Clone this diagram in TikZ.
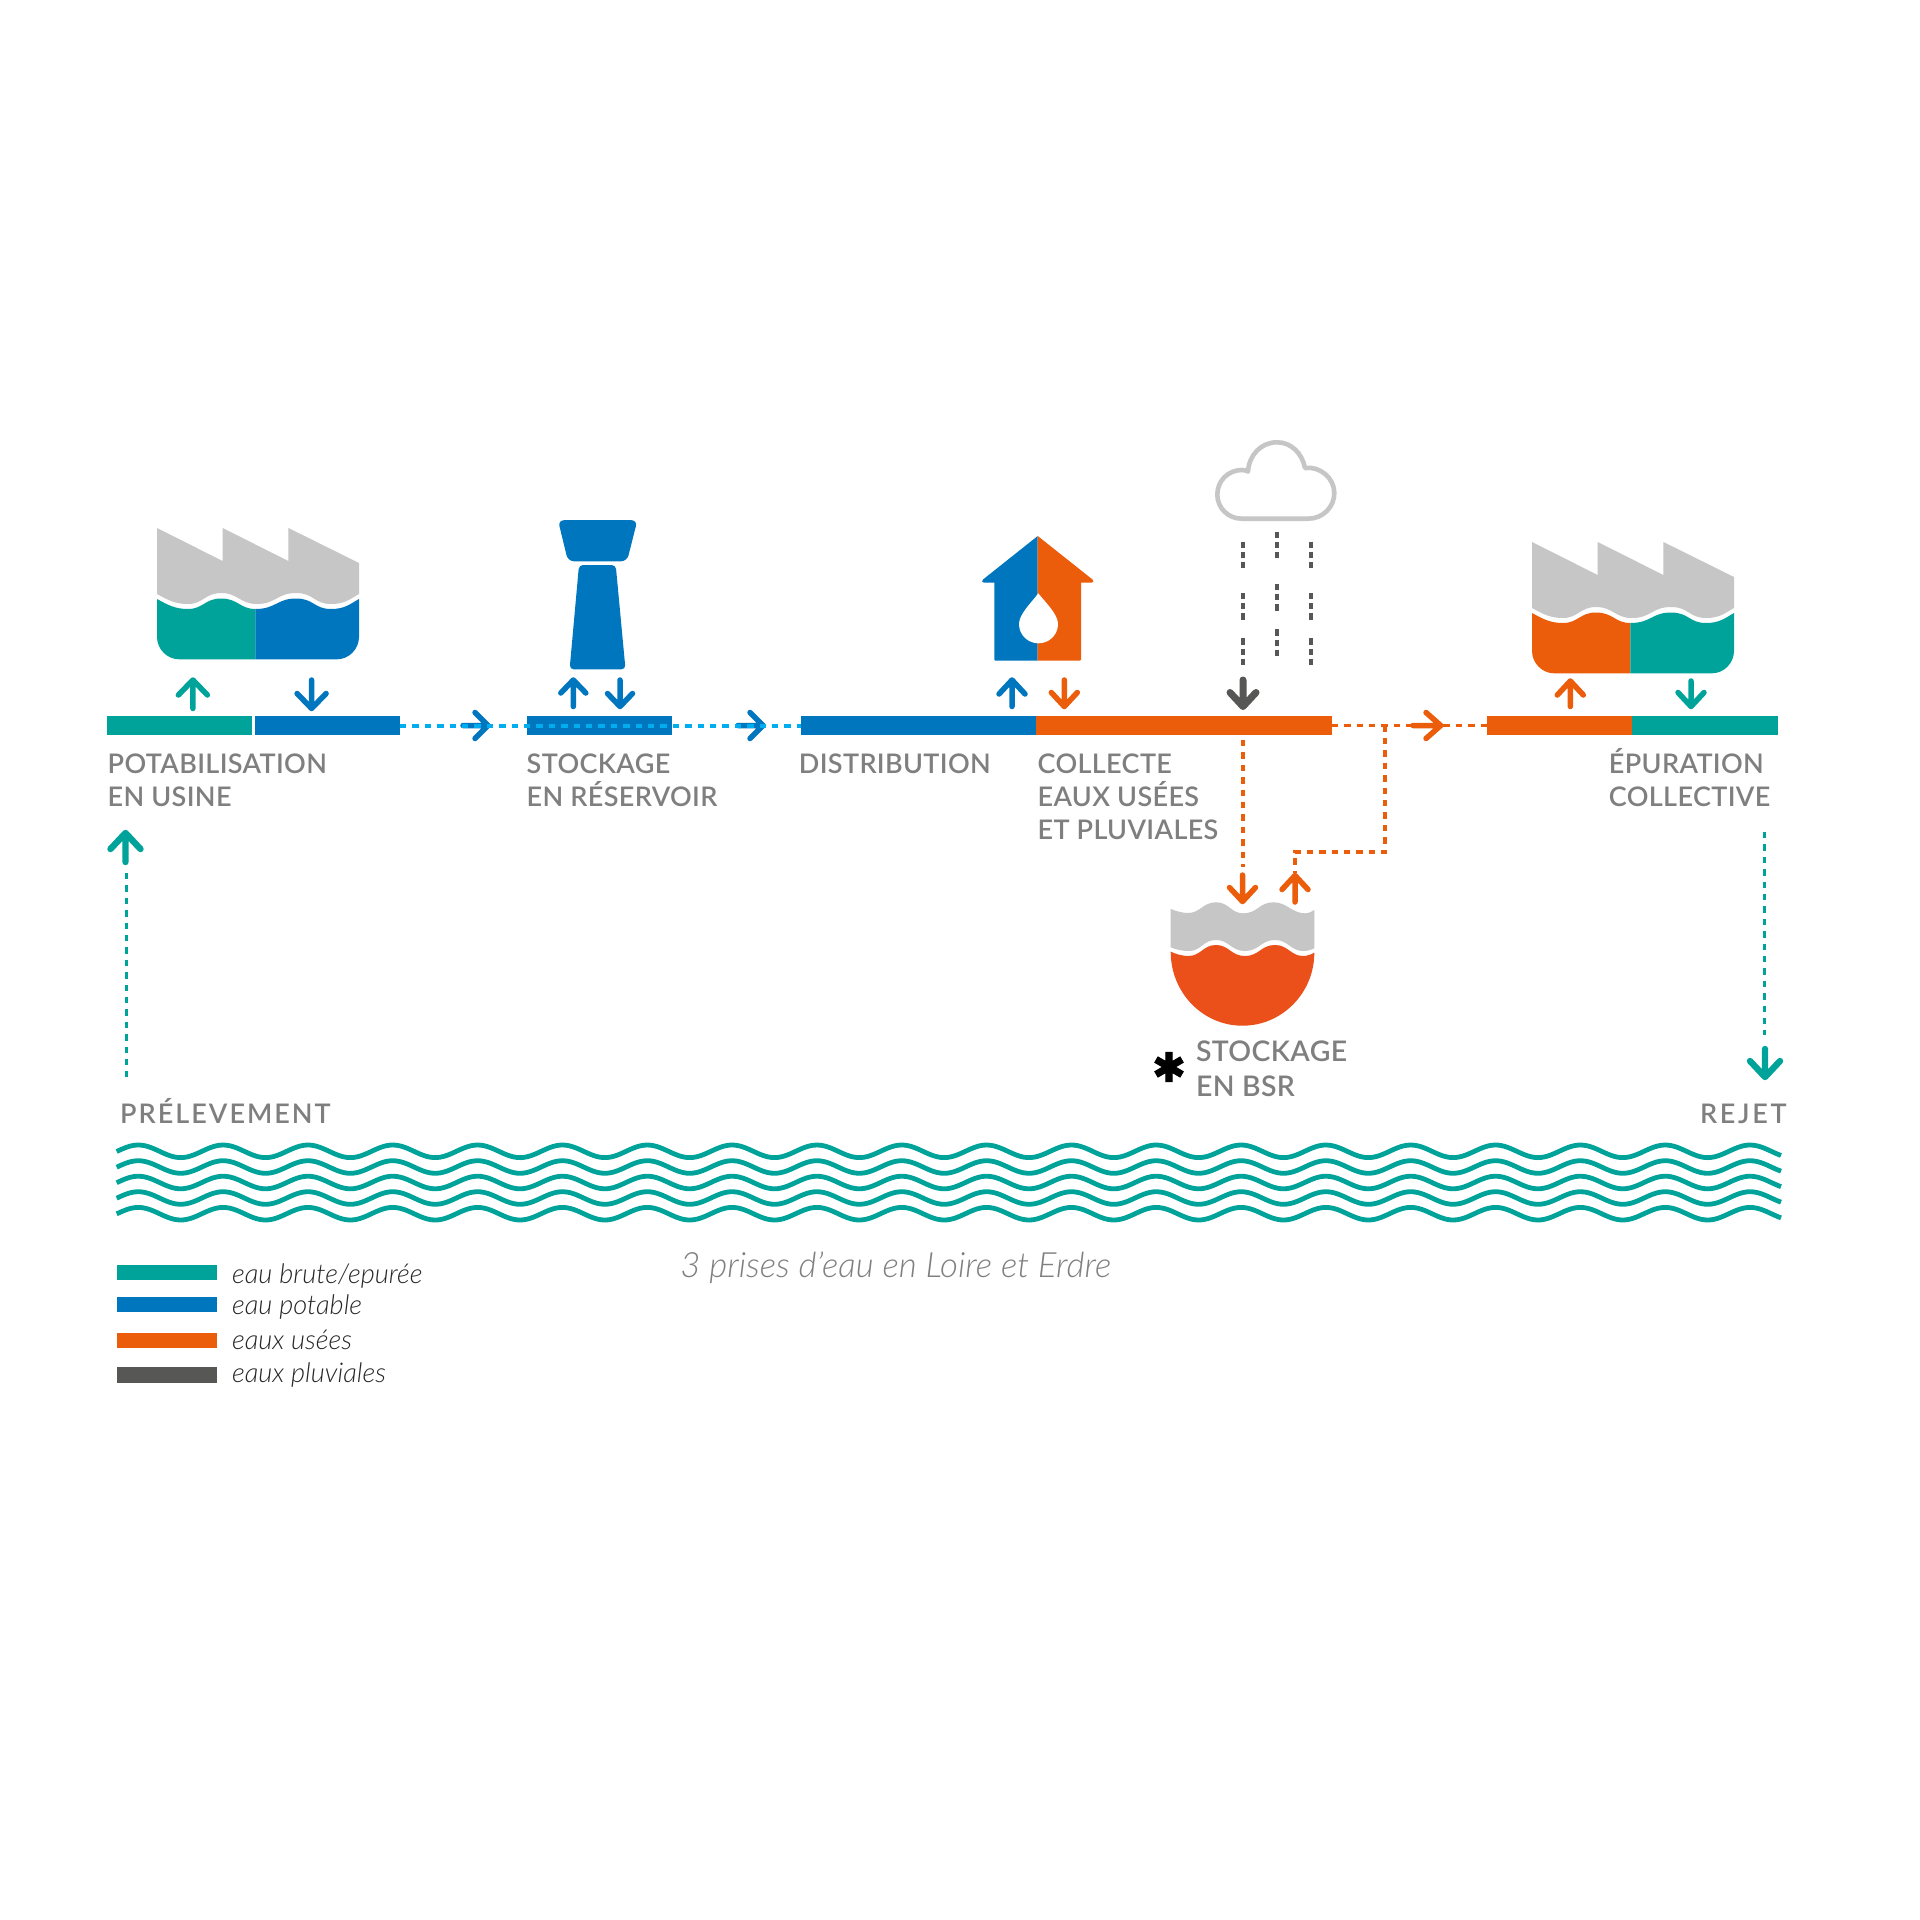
\documentclass[tikz,border=0pt]{standalone}
\usepackage{fontspec}
\setmainfont{Lato}
\newfontfamily\lightit{Lato Light Italic}
\newfontfamily\labfont[LetterSpace=1.3]{Lato Semibold}
\newfontfamily\labwide[LetterSpace=7.5]{Lato Semibold}
\newfontfamily\labwider[LetterSpace=10]{Lato Semibold}
\newfontfamily\astfont[FakeBold=2.5]{DejaVu Sans}
\definecolor{cteal}{HTML}{00A39A}
\definecolor{cblue}{HTML}{0076BF}
\definecolor{corange}{HTML}{EB5C0B}
\definecolor{cbowl}{HTML}{EB4F1A}
\definecolor{cgray}{HTML}{C6C6C6}
\definecolor{cdark}{HTML}{575756}
\definecolor{ctext}{HTML}{7F7F7F}
\definecolor{ccyan}{HTML}{00AEEF}
\tikzset{
 barnode/.style={inner sep=0pt,outer sep=0pt,minimum height=9.5pt,anchor=west},
 lab/.style={anchor=base west,inner sep=0pt,text=ctext,font=\labfont\fontsize{13.5}{13.5}\selectfont},
 labbig/.style={lab,font=\labfont\fontsize{14.2}{14.2}\selectfont},
 labsp/.style={lab,font=\labwide\fontsize{13.5}{13.5}\selectfont},
 labspp/.style={lab,font=\labwider\fontsize{13.5}{13.5}\selectfont},
 leg/.style={anchor=base west,inner sep=0pt,text=black!85,font=\lightit\fontsize{13.6}{13.6}\selectfont},
 dots/.style={line width=1.9pt,dash pattern=on 3.2pt off 3pt},
 sarrow/.style={line width=2.75pt,line cap=round,line join=round},
 wavy/.style={line width=2.4pt,cteal},
}
\newcommand{\varrow}[6]{\draw[sarrow,#6] (#1,#3) -- (#1,#2) (#1-#4,#2+#5) -- (#1,#2) -- (#1+#4,#2+#5);}
\newcommand{\harrow}[5]{\draw[sarrow,#5] (#1,725.5) -- (#2,725.5) (#3,725.5-#4) -- (#2,725.5) -- (#3,725.5+#4);}
\newcommand{\factory}[4]{%
 \begin{scope}[shift={(#1,#2)}]
 \fill[cgray] (157,528) -- (222.6,561) -- (222.6,528) -- (288.4,561) -- (288.4,528) -- (359,563) -- (359,594)
   .. controls (350,599) and (345,604) .. (331,604) .. controls (314,604) and (314,593) .. (296,593)
   .. controls (277,593) and (276,604) .. (257,604) .. controls (240,604) and (238,593) .. (221,593)
   .. controls (205,593) and (203,604) .. (188,604) .. controls (175,604) and (168,600) .. (157,594) -- cycle;
 \fill[#3] (157,599) .. controls (168,605) and (175,609) .. (188,609) .. controls (203,609) and (205,598.5) .. (221,598.5)
   .. controls (238,598.5) and (240,609) .. (255.3,609) -- (255.3,659.3) -- (179,659.3) .. controls (167,659.3) and (157,649) .. (157,637) -- cycle;
 \fill[#4] (255.3,609) .. controls (276,609) and (277,598.5) .. (296,598.5) .. controls (314,598.5) and (314,609) .. (331,609)
   .. controls (345,609) and (350,604) .. (359,599) -- (359,637) .. controls (359,649) and (349,659.3) .. (337,659.3) -- (255.3,659.3) -- cycle;
 \end{scope}}
\begin{document}
\begin{tikzpicture}[x=0.5pt,y=-0.5pt]
\useasboundingbox[fill=white] (0,0) rectangle (1920,1920);
% bars
\node[barnode,fill=cteal,minimum width=72.5pt] (b1) at (106.5,725.5) {};
\node[barnode,fill=cblue,minimum width=72.75pt] (b2) at (254.5,725.5) {};
\node[barnode,fill=cblue,minimum width=72.5pt] (b3) at (527,725.5) {};
\node[barnode,fill=cblue,minimum width=117.6pt] (b4) at (800.8,725.5) {};
\node[barnode,fill=corange,minimum width=147.85pt] (b5) at (1036,725.5) {};
\node[barnode,fill=corange,minimum width=72.5pt] (b6) at (1486.7,725.5) {};
\node[barnode,fill=cteal,minimum width=72.85pt] (b7) at (1632.3,725.5) {};
% factories
\factory{0}{0}{cteal}{cblue}
\factory{1375}{14}{corange}{cteal}
% tower
\fill[cblue,rounded corners=3pt] (558,520.2) -- (637.4,520.2) -- (627,561.3) -- (568,561.3) -- cycle;
\fill[cblue,rounded corners=2pt] (579,565) -- (615.7,565) -- (625.5,669.3) -- (569.6,669.3) -- cycle;
% house
\fill[cblue] (1037.7,536) -- (1037.7,660.7) -- (995.3,660.7) -- (994.3,659.7) -- (994.3,582.7) -- (984,582.7) .. controls (982,582.7) and (981.5,580.5) .. (983,579.5) -- cycle;
\fill[corange] (1037.7,536) -- (1037.7,660.7) -- (1080,660.7) -- (1081,659.7) -- (1081,582.7) -- (1091.6,582.7) .. controls (1093.6,582.7) and (1094,580.5) .. (1092.5,579.5) -- cycle;
\fill[white] (1038.3,593.3) .. controls (1045,602) and (1058,614) .. (1058,624) .. controls (1058,635) and (1049,643.3) .. (1038.5,643.3)
  .. controls (1028,643.3) and (1019,635) .. (1019,624) .. controls (1019,614) and (1032,602) .. (1038.3,593.3) -- cycle;
% cloud
\draw[cgray,line width=2.3pt,line join=round] (1242,518.7) .. controls (1228,518.7) and (1217.3,508) .. (1217.3,494.5)
  .. controls (1217.3,481) and (1228,470) .. (1242,470) .. controls (1244,470) and (1246,470.5) .. (1248,471.5)
  .. controls (1249,455) and (1261,442.3) .. (1277,442.3) .. controls (1291,442.3) and (1302,453) .. (1305,468)
  .. controls (1320,466) and (1334.3,478) .. (1334.3,493) .. controls (1334.3,507) and (1323,518.7) .. (1308,518.7) -- cycle;
% rain
\foreach \x/\a/\b/\c in {1243/541.7/593/638.3,1277/531.7/584/629.3,1311/541.7/593/638.3}{
 \foreach \y in {\a,\b,\c}{
  \draw[cdark,line width=1.7pt,dash pattern=on 3.1pt off 2pt] (\x,\y) -- (\x,\y+30);
 }}
% horizontal arrows
\harrow{463}{488}{475}{13}{cblue}
\harrow{738}{763}{750}{13}{cblue}
\harrow{1413}{1440.7}{1426}{13}{corange}
% dotted connectors
\coordinate (jct) at (1385,725.5);
\coordinate (bsrtop) at (1294.7,873);
\coordinate (rainout) at (1243,740);
\coordinate (rainin) at (1243,867);
\draw[dots,ccyan,line width=2pt] (b2.east) -- (b4.west);
\draw[dots,corange] (b5.east) -- (b6.west);
\draw[dots,corange] (jct) -- (1385,852) -| (bsrtop);
\draw[dots,corange] (rainout) -- (rainin);
\coordinate (pa) at (126.5,873);
\coordinate (pb) at (126.5,1077);
\coordinate (ra) at (1764.5,832);
\coordinate (rb) at (1764.5,1035);
\draw[dots,cteal] (pa) -- (pb);
\draw[dots,cteal] (ra) -- (rb);
% vertical arrows
\varrow{192.9}{680}{708.5}{14.5}{15}{cteal}
\varrow{311.6}{708.5}{680}{14.5}{-15}{cblue}
\varrow{573.3}{680}{706.5}{12.5}{13}{cblue}
\varrow{620}{706.5}{680}{12.5}{-13}{cblue}
\varrow{1012}{680}{706.5}{13}{14}{cblue}
\varrow{1064.3}{706.5}{680}{13}{-14}{corange}
\varrow{1570.3}{681}{706.5}{13}{14}{corange}
\varrow{1691}{706.5}{681}{13}{-14}{cteal}
\draw[sarrow,cdark,line width=3.5pt] (1243,680) -- (1243,706.5) (1230,692.5) -- (1243,706.5) -- (1256,692.5);
\varrow{1242.5}{901.5}{875}{13}{-14}{corange}
\varrow{1295}{875.5}{902}{13}{14}{corange}
\draw[sarrow,line width=3.2pt,cteal] (125.5,862) -- (125.5,833) (110.5,849) -- (125.5,833) -- (140.5,849);
\draw[sarrow,line width=3.2pt,cteal] (1765,1049) -- (1765,1077) (1750,1061) -- (1765,1077) -- (1780,1061);
% BSR bowl
\fill[cgray] (1170.7,909) .. controls (1176,911) and (1182,913) .. (1188,913) .. controls (1200,913) and (1203,902.3) .. (1216,902.3)
  .. controls (1229,902.3) and (1231,913.3) .. (1243,913.3) .. controls (1258,913.3) and (1259,902.3) .. (1273.3,902.3)
  .. controls (1287,902.3) and (1292,913.3) .. (1305,913.3) .. controls (1309,913.3) and (1312,911.5) .. (1314.3,910)
  -- (1314.3,948.3) .. controls (1311,950) and (1307,951) .. (1303,951) .. controls (1291,951) and (1288,940) .. (1275,940)
  .. controls (1261,940) and (1259,951) .. (1245,951) .. controls (1231,951) and (1229,940) .. (1216,940)
  .. controls (1203,940) and (1201,951) .. (1189,951) .. controls (1182,951) and (1176,949.5) .. (1170.7,947.3) -- cycle;
\fill[cbowl] (1170.7,951.7) .. controls (1176,954) and (1182,956) .. (1188,956) .. controls (1201,956) and (1203,945) .. (1216,945)
  .. controls (1229,945) and (1231,956) .. (1245,956) .. controls (1259,956) and (1261,945) .. (1275,945)
  .. controls (1288,945) and (1291,956) .. (1303,956) .. controls (1307,956) and (1311,954.5) .. (1314.3,952.7)
  .. controls (1314.3,993) and (1282,1025.7) .. (1242.5,1025.7) .. controls (1203,1025.7) and (1170.7,993) .. (1170.7,951.7) -- cycle;
% labels
\node[lab] (t1) at (107.3,773.5) {POTABILISATION};
\node[lab] (t2) at (107.3,806.5) {EN USINE};
\node[lab] (t3) at (526.3,773.5) {STOCKAGE};
\node[lab] (t4) at (526.3,806.5) {EN RÉSERVOIR};
\node[lab] (t5) at (798.5,773.5) {DISTRIBUTION};
\node[lab] (t6) at (1037.2,773.5) {COLLECTE};
\node[lab] (t7) at (1037.2,806.5) {EAUX USÉES};
\node[lab] (t8) at (1037.2,839.5) {ET PLUVIALES};
\node[lab] (t9) at (1608.5,773.5) {ÉPURATION};
\node[lab] (t10) at (1608.5,806.5) {COLLECTIVE};
\node[labbig] (t11) at (1195.7,1061.5) {STOCKAGE};
\node[labbig] (t12) at (1195.7,1096.5) {EN BSR};
\node[labsp] (t13) at (119.7,1123.5) {PRÉLEVEMENT};
\node[labspp] (t14) at (1699.6,1123.5) {REJET};
\node[inner sep=0pt,text=black,font={\astfont\fontsize{20}{20}\selectfont}] (ast) at (1169,1067) {✱};
% waves
\foreach \yy in {1151.3,1167,1182.5,1198,1213.7}{
 \draw[wavy,line join=round] plot[domain=116.7:1781,samples=500] (\x,{\yy-6.3*cos((\x-138.3)*4.2438)});
}
% legend
\fill[cteal] (116.7,1265) rectangle (217,1280);
\fill[cblue] (116.7,1296.7) rectangle (217,1312.3);
\fill[corange] (116.7,1333) rectangle (217,1348.3);
\fill[cdark] (116.7,1367.3) rectangle (217,1382.7);
\node[leg] (l1) at (231.7,1283) {eau brute/epurée};
\node[leg] (l2) at (231.7,1314) {eau potable};
\node[leg] (l3) at (231.7,1349) {eaux usées};
\node[leg] (l4) at (231.7,1382.3) {eaux pluviales};
\node[leg,text=ctext,font=\lightit\fontsize{17.4}{17.4}\selectfont] (cap) at (680,1277.5) {3 prises d’eau en Loire et Erdre};
\end{tikzpicture}
\end{document}
